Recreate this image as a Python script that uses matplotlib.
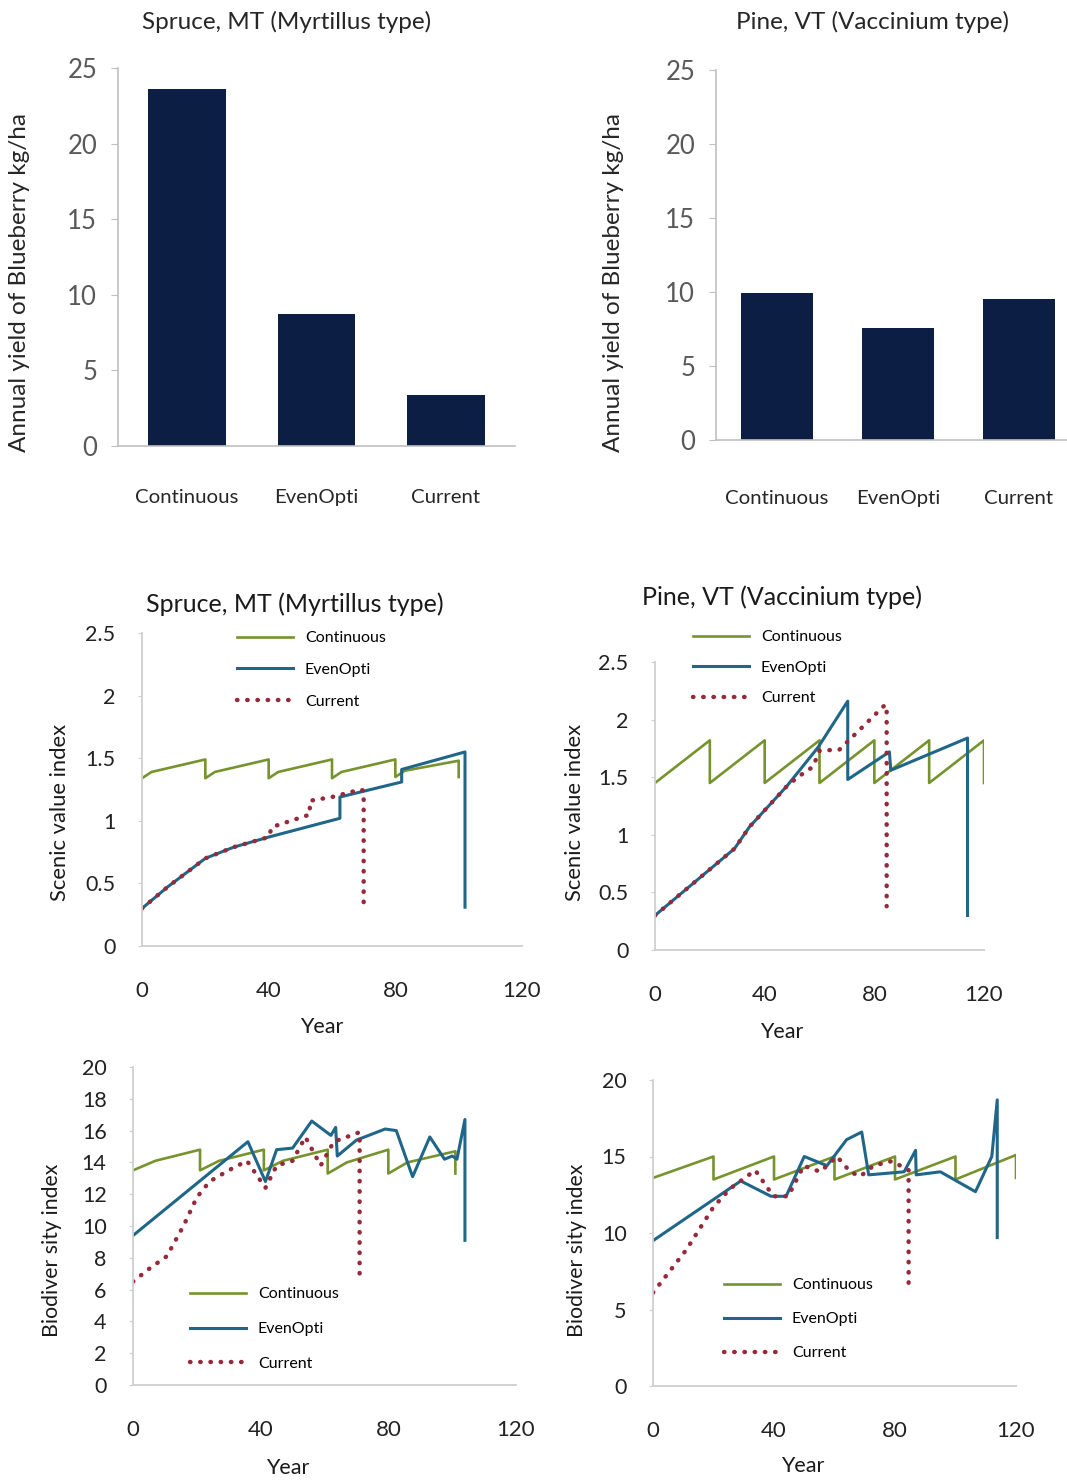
import matplotlib
matplotlib.use('Agg')
import matplotlib.pyplot as plt

W, H = 1067, 1481
plt.rcParams['font.family'] = ['Lato', 'DejaVu Sans']

# --- blueberry yield (kg/ha) ---
bar_cats = ['Continuous', 'EvenOpti', 'Current']
spruce_yield = [23.6, 8.7, 3.4]
pine_yield = [9.9, 7.6, 9.5]

# --- scenic value, spruce MT ---
ss_cont_x = [0, 3, 20, 20, 23, 40, 40, 43, 60, 60, 63, 80, 80, 83, 100, 100]
ss_cont_y = [1.34, 1.39, 1.49, 1.34, 1.39, 1.49, 1.34, 1.39, 1.49, 1.34, 1.39, 1.49, 1.35, 1.40, 1.48, 1.35]
ss_even_x = [0, 8, 20, 29, 40, 62.5, 62.5, 82, 82, 102, 102]
ss_even_y = [0.30, 0.47, 0.70, 0.79, 0.87, 1.02, 1.19, 1.31, 1.41, 1.55, 0.31]
ss_curr_x = [0, 8, 20, 29, 40, 41, 53, 53, 60, 69, 70, 70]
ss_curr_y = [0.30, 0.47, 0.70, 0.79, 0.87, 0.95, 1.05, 1.16, 1.19, 1.25, 1.24, 0.32]

# --- scenic value, pine VT ---
sp_cont_x = [0, 20, 20, 40, 40, 60, 60, 80, 80, 100, 100, 120, 120]
sp_cont_y = [1.45, 1.82, 1.45, 1.82, 1.45, 1.82, 1.45, 1.82, 1.45, 1.82, 1.45, 1.82, 1.45]
sp_even_x = [0, 29, 34.5, 48, 59.5, 70.3, 70.3, 85.5, 86, 114, 114]
sp_even_y = [0.30, 0.88, 1.07, 1.42, 1.76, 2.16, 1.48, 1.72, 1.56, 1.84, 0.30]
sp_curr_x = [0, 29, 34.5, 48, 52, 57.6, 60, 67.3, 84, 84.5, 84.5]
sp_curr_y = [0.30, 0.88, 1.07, 1.42, 1.50, 1.59, 1.73, 1.74, 2.13, 2.10, 0.38]

# --- biodiversity, spruce MT ---
bs_cont_x = [0, 7, 21, 21, 27, 41, 41, 47, 61, 61, 67, 80, 80, 86, 101, 101]
bs_cont_y = [13.5, 14.1, 14.8, 13.5, 14.1, 14.8, 13.5, 14.1, 14.8, 13.3, 14.0, 14.8, 13.3, 14.0, 14.7, 13.3]
bs_even_x = [0, 36, 41.5, 45, 50, 56, 62, 63.5, 64, 70, 79, 82.5, 87.6, 93, 97.6, 100, 101.5, 104, 104]
bs_even_y = [9.4, 15.3, 12.8, 14.8, 14.9, 16.6, 15.7, 16.2, 14.4, 15.4, 16.1, 16.0, 13.1, 15.6, 14.2, 14.4, 14.2, 16.7, 9.1]
bs_curr_x = [0, 5, 10.6, 15.8, 20, 24, 30, 35.7, 41.5, 45, 50, 54, 58.8, 62.9, 71, 71]
bs_curr_y = [6.5, 7.3, 8.1, 10.0, 11.8, 12.8, 13.5, 14.1, 12.4, 13.8, 14.1, 15.6, 13.8, 15.3, 15.9, 6.7]

# --- biodiversity, pine VT ---
bp_cont_x = [0, 20, 20, 40, 40, 60, 60, 80, 80, 100, 100, 120, 120]
bp_cont_y = [13.6, 15.0, 13.5, 15.0, 13.5, 15.0, 13.5, 15.0, 13.5, 15.0, 13.5, 15.1, 13.6]
bp_even_x = [0, 29, 39, 44, 50, 57.5, 64, 69, 71.3, 83, 86.8, 87, 95, 106.6, 112, 113.8, 113.8]
bp_even_y = [9.5, 13.4, 12.4, 12.4, 15.0, 14.4, 16.1, 16.6, 13.8, 14.0, 15.4, 13.8, 14.0, 12.7, 15.0, 18.7, 9.7]
bp_curr_x = [0, 11, 20, 25.5, 33.8, 39.8, 44.7, 49.8, 55.3, 60.8, 65.2, 68.5, 72.9, 79, 84.5, 84.5]
bp_curr_y = [6.1, 8.9, 11.7, 12.9, 14.1, 12.4, 12.4, 14.4, 14.0, 15.0, 14.0, 13.7, 14.4, 14.7, 14.1, 6.5]

series_names = ['Continuous', 'EvenOpti', 'Current']
GREEN = '#76932e'
BLUE = '#1f6688'
RED = '#962a3a'
NAVY = '#0d1e45'

fig = plt.figure(figsize=(W / 100, H / 100), dpi=100)


def px_axes(x0, x1, ytop, ybot):
    return fig.add_axes([x0 / W, 1 - ybot / H, (x1 - x0) / W, (ybot - ytop) / H])


def ftext(x, y, s, **kw):
    fig.text(x / W, 1 - y / H, s, ha='center', va='center', **kw)


def bar_panel(ax, vals, xlo, xhi, xpad):
    ax.bar(range(len(vals)), vals, width=0.6, color=NAVY)
    ax.set_xlim(xlo, xhi)
    ax.set_ylim(0, 25)
    ax.set_yticks([0, 5, 10, 15, 20, 25])
    ax.set_xticks(range(len(bar_cats)))
    ax.set_xticklabels(bar_cats)
    for s in ['top', 'right']:
        ax.spines[s].set_visible(False)
    for s in ['left', 'bottom']:
        ax.spines[s].set_color('#c0c0c0')
        ax.spines[s].set_linewidth(1.2)
    ax.tick_params(axis='x', length=0, pad=xpad, labelsize=14.7, labelcolor='#262626')
    ax.tick_params(axis='y', length=5, color='#c0c0c0', pad=10, labelsize=18.5, labelcolor='#595959')


def line_panel(ax, data, ylim, yticks, yticklabels):
    (cx, cy), (ex, ey), (rx, ry) = data
    ax.plot(cx, cy, color=GREEN, lw=1.9, label=series_names[0])
    ax.plot(ex, ey, color=BLUE, lw=2.2, label=series_names[1])
    ax.plot(rx, ry, color=RED, lw=3.2, linestyle=(0, (0.1, 2.2)),
            dash_capstyle='round', label=series_names[2])
    ax.set_xlim(0, 120)
    ax.set_ylim(*ylim)
    ax.set_xticks([0, 40, 80, 120])
    ax.set_yticks(yticks)
    ax.set_yticklabels(yticklabels)
    for s in ['top', 'right']:
        ax.spines[s].set_visible(False)
    for s in ['left', 'bottom']:
        ax.spines[s].set_color('#cfcfcf')
        ax.spines[s].set_linewidth(1.3)
    ax.tick_params(axis='x', length=0, pad=25, labelsize=16, labelcolor='#222222')
    ax.tick_params(axis='y', length=3, color='#cfcfcf', pad=16, labelsize=15.5, labelcolor='#222222')


def add_legend(ax, x, y, spacing):
    ax.legend(loc='upper left', bbox_to_anchor=(x / W, 1 - y / H), bbox_transform=fig.transFigure,
              frameon=False, fontsize=11.5, handlelength=3.5, handletextpad=0.75,
              labelspacing=spacing, borderpad=0, borderaxespad=0)


# top bar charts
ax1 = px_axes(118, 515, 68, 446)
bar_panel(ax1, spruce_yield, (118 - 187) / 129.5, (515 - 187) / 129.5, 31)
ftext(287, 22, 'Spruce, MT (Myrtillus type)', fontsize=17.5, color='#262626')
ftext(20, 283, 'Annual yield of Blueberry kg/ha', rotation=90, fontsize=17.5, color='#262626')

ax2 = px_axes(716, 1067, 70, 440)
bar_panel(ax2, pine_yield, (716 - 777) / 121, (1067 - 777) / 121, 36)
ftext(872, 22, 'Pine, VT (Vaccinium type)', fontsize=17.5, color='#262626')
ftext(614, 283, 'Annual yield of Blueberry kg/ha', rotation=90, fontsize=17.5, color='#262626')

# scenic value
ax3 = px_axes(142, 522, 633, 946)
line_panel(ax3, [(ss_cont_x, ss_cont_y), (ss_even_x, ss_even_y), (ss_curr_x, ss_curr_y)],
           (0, 2.5), [0, 0.5, 1, 1.5, 2, 2.5], ['0', '0.5', '1', '1.5', '2', '2.5'])
add_legend(ax3, 237, 631, 1.1)
ftext(295, 604, 'Spruce, MT (Myrtillus type)', fontsize=18, color='#1a1a1a')
ftext(60, 812, 'Scenic value index', rotation=90, fontsize=15.8, color='#1a1a1a')
ftext(322, 1027, 'Year', fontsize=15.5, color='#1a1a1a')

ax4 = px_axes(655, 984, 662, 950)
line_panel(ax4, [(sp_cont_x, sp_cont_y), (sp_even_x, sp_even_y), (sp_curr_x, sp_curr_y)],
           (0, 2.5), [0, 0.5, 1, 1.5, 2, 2.5], ['0', '0.5', '1', '1.5', '2', '2.5'])
add_legend(ax4, 693, 630, 1.02)
ftext(782, 597, 'Pine, VT (Vaccinium type)', fontsize=18, color='#1a1a1a')
ftext(575, 812, 'Scenic value index', rotation=90, fontsize=15.8, color='#1a1a1a')
ftext(782, 1032, 'Year', fontsize=15.5, color='#1a1a1a')

# biodiversity
ax5 = px_axes(133, 516, 1067, 1385)
line_panel(ax5, [(bs_cont_x, bs_cont_y), (bs_even_x, bs_even_y), (bs_curr_x, bs_curr_y)],
           (0, 20), list(range(0, 21, 2)), [str(v) for v in range(0, 21, 2)])
add_legend(ax5, 190, 1287, 1.3)
ftext(52, 1250, 'Biodiver sity index', rotation=90, fontsize=15.3, color='#1a1a1a')
ftext(288, 1468, 'Year', fontsize=15.5, color='#1a1a1a')

ax6 = px_axes(653, 1016, 1080, 1386)
line_panel(ax6, [(bp_cont_x, bp_cont_y), (bp_even_x, bp_even_y), (bp_curr_x, bp_curr_y)],
           (0, 20), [0, 5, 10, 15, 20], ['0', '5', '10', '15', '20'])
add_legend(ax6, 724, 1278, 1.25)
ftext(577, 1250, 'Biodiver sity index', rotation=90, fontsize=15.3, color='#1a1a1a')
ftext(803, 1466, 'Year', fontsize=15.5, color='#1a1a1a')

fig.savefig('out.png', dpi=100)
